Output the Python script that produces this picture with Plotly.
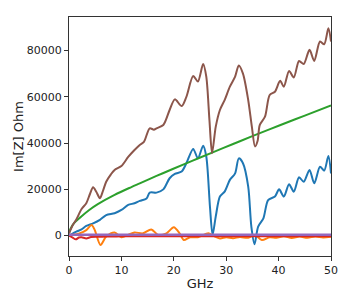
import plotly.graph_objects as go

# ---- data ----
brown_x = [0, 0.7, 1.4, 2.4, 3.3, 4.0, 4.6, 5.2, 5.9, 6.5, 7.1, 8.0, 8.7, 10.0, 11.3, 12.5, 13.5, 14.3, 15.4, 16.2, 16.7, 18.0, 19.2, 20.2, 21.5, 22.4, 23.7, 24.6, 25.6, 26.2, 26.8, 27.3, 28.0, 28.8, 29.7, 30.7, 31.7, 32.4, 33.2, 34.2, 34.9, 35.5, 36.0, 36.4, 37.4, 38.3, 39.3, 40.3, 41.0, 42.0, 42.9, 43.9, 44.8, 45.9, 46.8, 47.9, 48.7, 49.5, 50.0]
brown_y = [1000, 4500, 7000, 11500, 14000, 18000, 20900, 19000, 16200, 19500, 23300, 26500, 28400, 30100, 34000, 37000, 39200, 40500, 46400, 45800, 46400, 47800, 54300, 58900, 56000, 60000, 69000, 66600, 74200, 68700, 50000, 35600, 47000, 54300, 58600, 64400, 68700, 73500, 70000, 58600, 47000, 38500, 41000, 47800, 51400, 60800, 62200, 66900, 64400, 71200, 68400, 75500, 74200, 80300, 75500, 83900, 82700, 89600, 83900]

blue_x = [0, 1.4, 2.4, 3.3, 4.6, 5.9, 7.1, 8.7, 10.0, 11.3, 12.5, 13.5, 14.8, 15.4, 16.7, 18.0, 19.2, 20.2, 21.5, 22.4, 23.7, 24.6, 25.6, 26.2, 26.9, 27.4, 28.0, 28.8, 29.7, 30.7, 31.7, 32.4, 33.2, 34.2, 34.8, 35.4, 36.1, 37.1, 38.0, 39.3, 40.1, 41.0, 42.0, 42.9, 43.9, 44.8, 45.9, 46.8, 47.9, 48.7, 49.5, 50.0]
blue_y = [0, 1700, 2700, 4200, 5300, 6800, 8900, 9700, 11100, 13300, 14000, 15000, 16100, 18600, 18600, 20000, 24800, 26700, 27700, 31300, 37500, 33400, 38900, 34200, 12500, 300, 8200, 16900, 19000, 24100, 26900, 33400, 31300, 21200, 3900, -3700, 3900, 7500, 15400, 16900, 20000, 16900, 22200, 19000, 25200, 23300, 28400, 22600, 29800, 28100, 34400, 26900]

green_x = [0, 0.3, 1.0, 2.3, 3.8, 5.5, 8.7, 11.9, 13.5, 16.7, 19.8, 23.5, 27.2, 31.2, 35.1, 40.0, 45.0, 50.0]
green_y = [1000, 3000, 5500, 8200, 11000, 13600, 17600, 21000, 22600, 25800, 28800, 32300, 35800, 39500, 43100, 47500, 51900, 56300]

orange_x = [0, 2.0, 3.3, 4.3, 4.9, 6.0, 7.1, 8.7, 10.0, 11.3, 12.5, 14.1, 15.7, 17.0, 18.6, 20.0, 21.1, 21.9, 23.1, 24.6, 26.6, 27.5, 28.8, 30.0, 31.3, 32.6, 34.2, 35.5, 36.8, 38.3, 39.6, 41.0, 42.5, 44.0, 45.5, 47.0, 48.5, 50.0]
orange_y = [0, 1000, 2400, 4600, 2500, -4000, -400, 1400, -700, 300, 1400, 1000, 2700, 300, 1000, 3600, 1000, -1900, -700, -700, 1000, 0, -1200, -700, -1100, -600, -900, 300, -1900, -700, -900, -300, -1000, -400, -900, -400, -800, -500]

red_x = [0, 0.7, 1.3, 1.9, 2.4, 3.3, 4.2, 5.5, 7.0, 10.0, 20.0, 30.0, 40.0, 50.0]
red_y = [0, -900, -1600, -800, -700, -1200, -600, -500, -400, -300, -300, -300, -300, -300]

purple_x = [0, 50]
purple_y = [400, 400]

fig = go.Figure()
series = [
    (blue_x, blue_y, "#1f77b4", 2, 0.8),
    (orange_x, orange_y, "#ff7f0e", 2, 0.8),
    (green_x, green_y, "#2ca02c", 2, 1.0),
    (red_x, red_y, "#d62728", 2, 0.8),
    (purple_x, purple_y, "#9467bd", 2.5, 0.8),
    (brown_x, brown_y, "#8c564b", 2, 0.8),
]
for x, y, c, w, s in series:
    fig.add_trace(go.Scatter(x=x, y=y, mode="lines",
                             line=dict(color=c, width=w, shape="spline", smoothing=s),
                             showlegend=False, hoverinfo="skip"))

fig.update_layout(
    width=349, height=291,
    margin=dict(l=69, r=18, t=17, b=35),
    paper_bgcolor="white", plot_bgcolor="white",
    font=dict(family="DejaVu Sans", size=11, color="#222"),
)
fig.update_xaxes(range=[0, 50], tickvals=[0, 10, 20, 30, 40, 50], automargin=False,
                 showgrid=False, zeroline=False, showline=True, linecolor="#333",
                 linewidth=1, mirror=True, ticks="outside", ticklen=4, tickcolor="#333",
                 title=dict(text="GHz", standoff=2))
fig.update_yaxes(range=[-8800, 94500], tickvals=[0, 20000, 40000, 60000, 80000],
                 tickformat="d", automargin=False,
                 showgrid=False, zeroline=False, showline=True, linecolor="#333",
                 linewidth=1, mirror=True, ticks="outside", ticklen=4, tickcolor="#333",
                 title=dict(text="Im[Z] Ohm", standoff=0))
fig.write_html("out.html", config={"displayModeBar": False},
               post_script="document.body.style.margin='0';document.body.style.overflow='hidden';")
